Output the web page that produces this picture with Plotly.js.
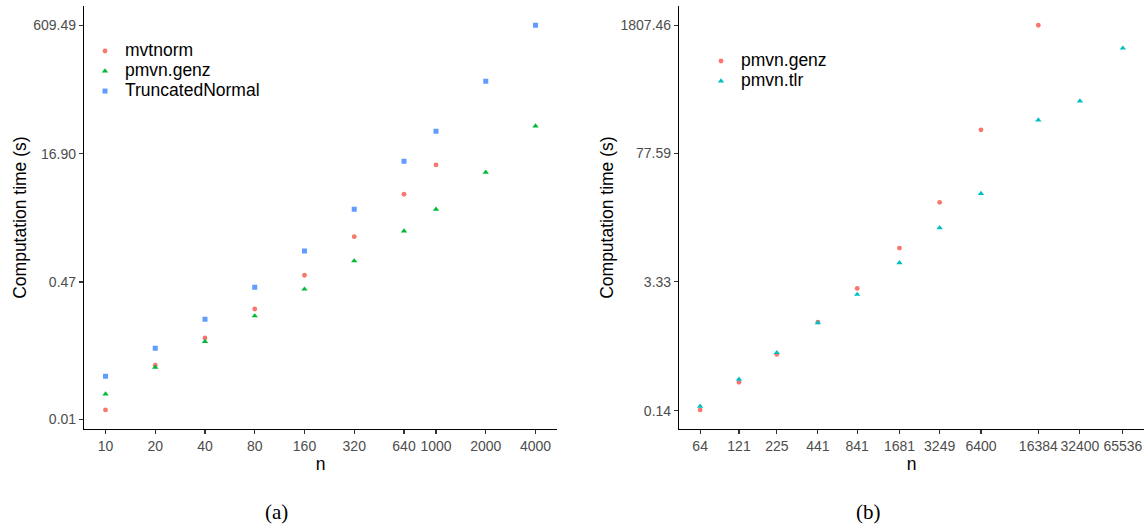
<!DOCTYPE html>
<html><head><meta charset="utf-8">
<script src="https://cdn.plot.ly/plotly-3.0.1.min.js"></script>
<style>html,body{margin:0;padding:0;background:#fff}#chart{width:1145px;height:527px}</style>
</head><body><div id="chart"></div>
<script>
// Panel (a)
var nA = [10, 20, 40, 80, 160, 320, 640, 1000, 2000, 4000];
var nMvtnorm = [10, 20, 40, 80, 160, 320, 640, 1000];
var mvtnormA = [0.0132, 0.0460, 0.0985, 0.221, 0.567, 1.665, 5.44, 12.33];
var genzA = [0.0206, 0.0435, 0.0888, 0.182, 0.384, 0.845, 1.95, 3.58, 10.06, 36.6];
var truncNormA = [0.0338, 0.0739, 0.166, 0.406, 1.117, 3.58, 13.67, 31.6, 127.6, 609.49];
var xTickTextA = ['10', '20', '40', '80', '160', '320', '640', '1000', '2000', '4000'];
var yTickValsA = [0.0102, 0.47, 16.90, 609.49];
var yTickTextA = ['0.01', '0.47', '16.90', '609.49'];

// Panel (b)
var nB = [64, 121, 225, 441, 841, 1681, 3249, 6400, 16384, 32400, 65536];
var nGenzB = [64, 121, 225, 441, 841, 1681, 3249, 6400, 16384];
var genzB = [0.1424, 0.2804, 0.557, 1.234, 2.816, 7.59, 23.36, 138.4, 1807.46];
var tlrB = [0.1555, 0.3018, 0.581, 1.213, 2.43, 5.29, 12.49, 29.0, 175.6, 280, 1028];
var xTickTextB = ['64', '121', '225', '441', '841', '1681', '3249', '6400', '16384', '32400', '65536'];
var yTickValsB = [0.14, 3.33, 77.59, 1807.46];
var yTickTextB = ['0.14', '3.33', '77.59', '1807.46'];

var W = 1145, H = 527;
function lbl(s) { return '<span style="font-size:17.5px">' + s + '</span>'; }

var traces = [
  {x: nMvtnorm, y: mvtnormA, type: 'scatter', mode: 'markers', name: lbl('mvtnorm'),
   marker: {symbol: 'circle', size: 4.8, color: '#F8766D', line: {width: 0}}, xaxis: 'x', yaxis: 'y', legend: 'legend'},
  {x: nA, y: genzA, type: 'scatter', mode: 'markers', name: lbl('pmvn.genz'),
   marker: {symbol: 'triangle-up', size: 5.6, color: '#00BA38', line: {width: 0}}, xaxis: 'x', yaxis: 'y', legend: 'legend'},
  {x: nA, y: truncNormA, type: 'scatter', mode: 'markers', name: lbl('TruncatedNormal'),
   marker: {symbol: 'square', size: 5, color: '#619CFF', line: {width: 0}}, xaxis: 'x', yaxis: 'y', legend: 'legend'},
  {x: nGenzB, y: genzB, type: 'scatter', mode: 'markers', name: lbl('pmvn.genz'),
   marker: {symbol: 'circle', size: 4.8, color: '#F8766D', line: {width: 0}}, xaxis: 'x2', yaxis: 'y2', legend: 'legend2'},
  {x: nB, y: tlrB, type: 'scatter', mode: 'markers', name: lbl('pmvn.tlr'),
   marker: {symbol: 'triangle-up', size: 5.6, color: '#00BFC4', line: {width: 0}}, xaxis: 'x2', yaxis: 'y2', legend: 'legend2'}
];

var tickFont = {family: 'Liberation Sans, Arial, sans-serif', size: 14, color: '#4D4D4D'};
var titleFont = {family: 'Liberation Sans, Arial, sans-serif', size: 17.5, color: '#000000'};
function axisBase() {
  return {type: 'log', showline: true, linecolor: '#000000', linewidth: 1.1, ticks: 'outside',
    ticklen: 4, tickwidth: 1.1, tickcolor: '#333333', showgrid: false, zeroline: false,
    tickfont: tickFont, tickmode: 'array', fixedrange: true};
}
var yDom = [1 - 429.2 / H, 1 - 6 / H];

var xA = Object.assign(axisBase(), {domain: [84 / W, 557 / W], anchor: 'y',
  range: [Math.log10(10) - 0.1301, Math.log10(4000) + 0.1301],
  tickvals: nA, ticktext: xTickTextA, title: {text: 'n', font: titleFont, standoff: 4}});
var yA = Object.assign(axisBase(), {domain: yDom, anchor: 'x',
  range: [-2.1129, 3.0182], tickvals: yTickValsA, ticktext: yTickTextA,
  title: {text: 'Computation time (s)', font: titleFont, standoff: 2}});
var xB = Object.assign(axisBase(), {domain: [679 / W, 1144 / W], anchor: 'y2',
  range: [Math.log10(64) - 0.1505, Math.log10(65536) + 0.1505],
  tickvals: nB, ticktext: xTickTextB, title: {text: 'n', font: titleFont, standoff: 4}});
var yB = Object.assign(axisBase(), {domain: yDom, anchor: 'x2',
  range: [-1.0517, 3.4623], tickvals: yTickValsB, ticktext: yTickTextB,
  title: {text: 'Computation time (s)', font: titleFont, standoff: 2}});

var legendFont = {family: 'Liberation Sans, Arial, sans-serif', size: 13.1, color: '#000000'};
var layout = {
  width: W, height: H,
  margin: {l: 0, r: 0, t: 0, b: 0, pad: 0},
  paper_bgcolor: '#ffffff', plot_bgcolor: '#ffffff',
  showlegend: true,
  xaxis: xA, yaxis: yA, xaxis2: xB, yaxis2: yB,
  legend: {x: 85 / W, y: 1 - 36 / H, xanchor: 'left', yanchor: 'top', bgcolor: 'rgba(0,0,0,0)',
    borderwidth: 0, font: legendFont, itemwidth: 30},
  legend2: {x: 701 / W, y: 1 - 46 / H, xanchor: 'left', yanchor: 'top', bgcolor: 'rgba(0,0,0,0)',
    borderwidth: 0, font: legendFont, itemwidth: 30},
  annotations: [
    {text: '(a)', xref: 'paper', yref: 'paper', x: 276 / W, y: 1 - 512 / H, xanchor: 'center', yanchor: 'middle',
     showarrow: false, font: {family: 'Liberation Serif, DejaVu Serif, serif', size: 21, color: '#000000'}},
    {text: '(b)', xref: 'paper', yref: 'paper', x: 868 / W, y: 1 - 512 / H, xanchor: 'center', yanchor: 'middle',
     showarrow: false, font: {family: 'Liberation Serif, DejaVu Serif, serif', size: 21, color: '#000000'}}
  ]
};

Plotly.newPlot('chart', traces, layout, {staticPlot: true, displayModeBar: false});
</script></body></html>
